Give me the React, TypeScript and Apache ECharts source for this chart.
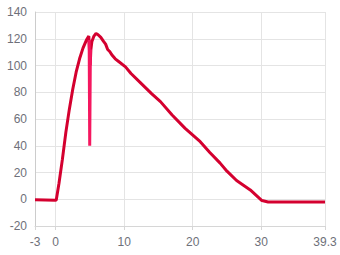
import React, { useEffect, useRef } from "react";
import * as echarts from "echarts";

const mainX = [-3, -1.5, 0, 0.1, 0.5, 1.0, 1.5, 2.0, 2.5, 3.0, 3.5, 4.0, 4.5, 4.85, 5.05, 5.15, 5.3, 5.6, 5.9, 6.2, 6.6, 7.0, 7.3, 7.6, 7.9, 8.2, 8.7, 9.2, 10.2, 11.0, 12.4, 14.0, 15.3, 17.0, 18.9, 21.1, 22.5, 24.0, 25.0, 26.4, 28.4, 30.1, 31.0, 35.0, 39.3];
const mainY = [-0.3, -0.5, -0.8, -0.5, 12, 30, 50, 67, 82, 95, 105, 113, 119, 122, 100, 112, 118, 122, 124, 123, 121, 118, 116, 112, 110.5, 108, 105, 103, 99, 94, 87, 79, 73, 63, 53, 43, 35, 27, 21, 14, 7, -1, -2, -2, -2];

const dipX = [4.9, 4.98, 5.08];
const dipY = [119, 40, 112];

const yTicks = { min: -20, max: 140, interval: 20 };
const xRange = { min: -3, max: 39.3 };

export default function App() {
  const ref = useRef<HTMLDivElement>(null);
  useEffect(() => {
    if (!ref.current) return;
    const chart = echarts.init(ref.current, undefined, { renderer: "svg" });
    chart.setOption({
      animation: false,
      grid: { left: 35, right: 15, top: 12, bottom: 29, containLabel: false },
      xAxis: {
        type: "value",
        min: xRange.min,
        max: xRange.max,
        axisLine: { show: true, onZero: false, lineStyle: { color: "#d6d6d6" } },
        axisTick: { show: true, length: 4, lineStyle: { color: "#d6d6d6" } },
        axisLabel: { color: "#6e7079", fontSize: 12, margin: 10, showMinLabel: true, showMaxLabel: true },
        splitLine: { show: true, lineStyle: { color: "#e4e4e4" } },
      },
      yAxis: {
        type: "value",
        min: yTicks.min,
        max: yTicks.max,
        interval: yTicks.interval,
        axisLine: { show: true, onZero: false, lineStyle: { color: "#cccccc" } },
        axisTick: { show: false },
        axisLabel: { color: "#6e7079", fontSize: 12, margin: 8 },
        splitLine: { show: true, lineStyle: { color: "#e4e4e4" } },
      },
      series: [
        {
          type: "line",
          data: mainX.map((x, i) => [x, mainY[i]]),
          showSymbol: false,
          lineStyle: { color: "#d4002f", width: 3 },
          itemStyle: { color: "#d4002f" },
        },
        {
          type: "line",
          data: dipX.map((x, i) => [x, dipY[i]]),
          showSymbol: false,
          lineStyle: { color: "#f5175f", width: 3 },
          itemStyle: { color: "#f5175f" },
        },
      ],
    });
    return () => chart.dispose();
  }, []);
  return <div ref={ref} style={{ width: 340, height: 255, position: "absolute", left: 0, top: 0 }} />;
}
